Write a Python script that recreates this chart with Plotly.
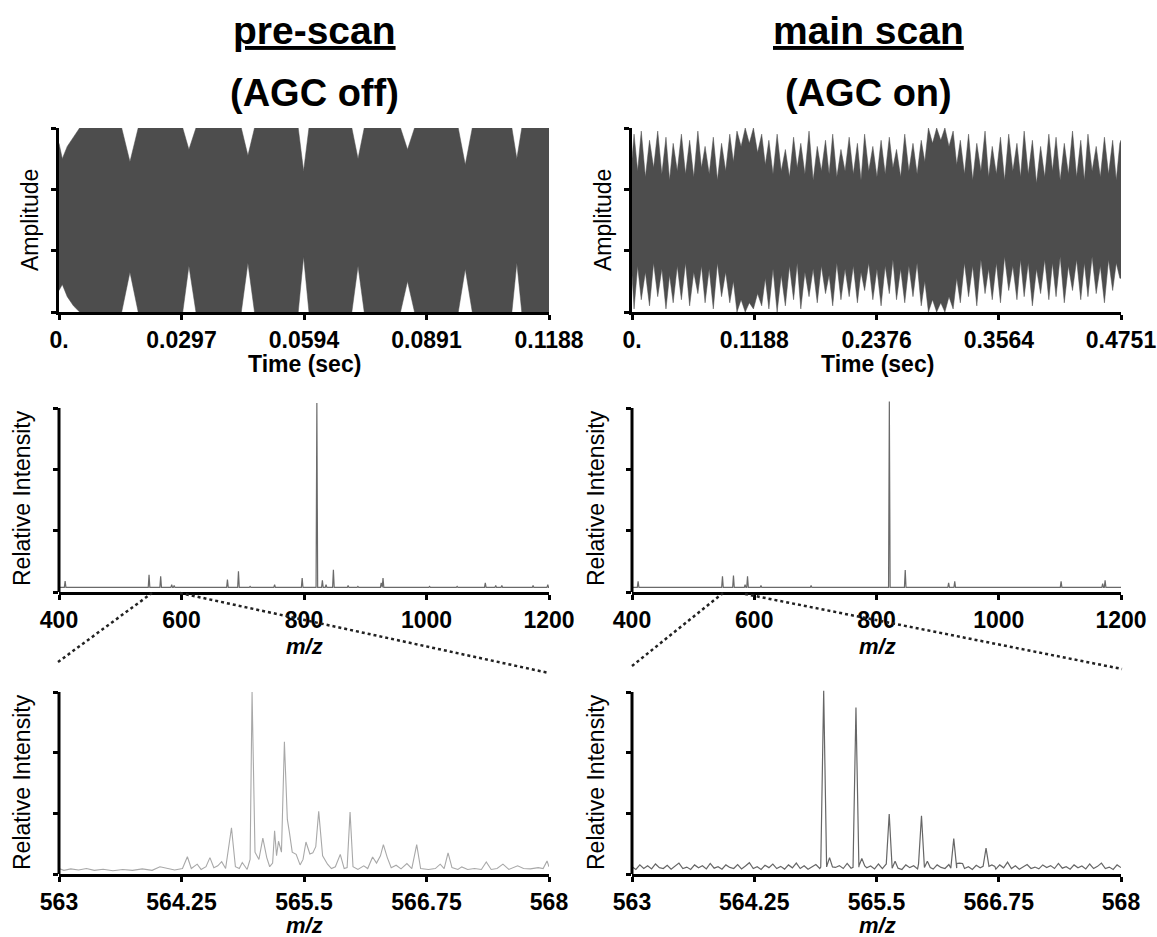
import numpy as np
import plotly.graph_objects as go

W, H = 1157, 937
FONT = "Liberation Sans, Arial, Helvetica, sans-serif"

# ---------------- time-domain transients (envelopes) -------------
pre_t = [0.0, 0.0008, 0.0020, 0.0035, 0.0050, 0.0152, 0.0172, 0.0192, 0.0300, 0.0315,
         0.0332, 0.0442, 0.0458, 0.0474, 0.0580, 0.0593, 0.0606, 0.0710, 0.0725, 0.0740,
         0.0828, 0.0845, 0.0862, 0.0968, 0.0985, 0.1002, 0.1098, 0.1110, 0.1122, 0.1188]
pre_up = [2.5, 2.0, 2.4, 2.7, 3.0, 3.0, 1.9, 3.0, 3.0, 2.3, 3.0, 3.0, 2.1, 3.0, 3.0,
          1.6, 3.0, 3.0, 2.0, 3.0, 3.0, 2.3, 3.0, 3.0, 1.8, 3.0, 3.0, 2.0, 3.0, 3.0]
pre_lo = [-2.3, -2.1, -2.5, -2.8, -3.0, -3.0, -1.7, -3.0, -3.0, -1.5, -3.0, -3.0, -1.4, -3.0, -3.0,
          -1.2, -3.0, -3.0, -1.5, -3.0, -3.0, -2.0, -3.0, -3.0, -1.6, -3.0, -3.0, -1.4, -3.0, -3.0]

main_peak_t = [0.002, 0.009, 0.017, 0.025, 0.033, 0.040, 0.048, 0.056, 0.064, 0.071,
               0.079, 0.087, 0.095, 0.102, 0.110, 0.118, 0.126, 0.133, 0.141, 0.149,
               0.157, 0.164, 0.172, 0.180, 0.188, 0.195, 0.203, 0.211, 0.219, 0.226,
               0.234, 0.242, 0.250, 0.257, 0.265, 0.273, 0.281, 0.288, 0.296, 0.304,
               0.312, 0.319, 0.327, 0.335, 0.343, 0.350, 0.358, 0.366, 0.374, 0.381,
               0.389, 0.397, 0.405, 0.412, 0.420, 0.428, 0.436, 0.443, 0.451, 0.459,
               0.467, 0.474]
main_valley_t = [0.0055, 0.013, 0.021, 0.029, 0.0365, 0.044, 0.052, 0.060, 0.0675, 0.075,
                 0.083, 0.091, 0.0985, 0.106, 0.114, 0.122, 0.1295, 0.137, 0.145, 0.153,
                 0.1605, 0.168, 0.176, 0.184, 0.1915, 0.199, 0.207, 0.215, 0.2225, 0.230,
                 0.238, 0.246, 0.2535, 0.261, 0.269, 0.277, 0.2845, 0.292, 0.300, 0.308,
                 0.3155, 0.323, 0.331, 0.339, 0.3465, 0.354, 0.362, 0.370, 0.3775, 0.385,
                 0.393, 0.401, 0.4085, 0.416, 0.424, 0.432, 0.4395, 0.447, 0.455, 0.463,
                 0.4705]
main_peak_up = [2.8, 2.9, 2.6, 2.9, 2.7, 2.5, 2.8, 2.6, 2.9, 2.4, 2.7, 2.5, 2.8,
                2.9, 3.0, 3.0, 2.8,
                2.6, 2.8, 2.3, 2.7, 2.5, 2.9, 2.4, 2.6, 2.8, 2.3, 2.7, 2.5, 2.8, 2.4, 2.6, 2.7, 2.3, 2.8, 2.5, 2.6,
                3.0, 3.0, 3.0, 2.9,
                2.6, 2.8, 2.5, 2.9, 2.4, 2.7, 2.8, 2.5, 2.9, 2.6, 2.4, 2.8, 2.7, 2.5, 2.9, 2.6, 2.8, 2.4, 2.7, 2.6, 2.5]
main_peak_lo = [-2.9, -2.6, -2.8, -2.5, -2.9, -2.7, -2.6, -2.8, -2.4, -2.7, -2.9, -2.5, -2.7,
                -3.0, -3.0, -2.9, -2.8,
                -2.9, -3.0, -2.8, -2.6, -2.9, -2.5, -2.7, -2.4, -2.8, -2.6, -2.5, -2.7, -2.3, -2.6, -2.8, -2.4, -2.6, -2.7, -2.5, -2.8,
                -3.0, -3.0, -3.0, -2.9,
                -2.7, -2.5, -2.8, -2.4, -2.6, -2.7, -2.3, -2.6, -2.5, -2.8, -2.4, -2.6, -2.5, -2.7, -2.3, -2.6, -2.5, -2.4, -2.7, -2.3, -1.9]
main_valley_up = [1.6, 1.4, 1.7, 1.5, 1.3, 1.6, 1.5, 1.4, 1.7, 1.5, 1.3, 1.6, 1.9,
                  2.4, 2.5, 2.2, 1.8,
                  1.5, 1.6, 1.4, 1.7, 1.5, 1.3, 1.6, 1.5, 1.4, 1.6, 1.5, 1.3, 1.6, 1.4, 1.5, 1.7, 1.4, 1.6, 1.5,
                  1.9, 2.5, 2.6, 2.4, 1.8,
                  1.5, 1.3, 1.6, 1.4, 1.5, 1.3, 1.6, 1.4, 1.5, 1.2, 1.4, 1.6, 1.3, 1.5, 1.4, 1.3, 1.6, 1.4, 1.5, 1.3]
main_valley_lo = [-1.5, -1.7, -1.4, -1.6, -1.8, -1.5, -1.4, -1.7, -1.5, -1.6, -1.4, -1.7, -2.0,
                  -2.6, -2.7, -2.4, -1.9,
                  -1.6, -1.8, -1.5, -1.4, -1.7, -1.6, -1.5, -1.8, -1.4, -1.6, -1.5, -1.7, -1.4, -1.6, -1.5, -1.3, -1.6, -1.5, -1.4,
                  -2.0, -2.6, -2.7, -2.5, -1.9,
                  -1.4, -1.5, -1.3, -1.6, -1.4, -1.2, -1.5, -1.3, -1.4, -1.6, -1.3, -1.4, -1.2, -1.5, -1.3, -1.4, -1.2, -1.5, -1.3, -1.4]
main_start = (0.0, 2.0, -1.8)
main_end = (0.4751, 2.6, -1.9)

pre_ticks = [0.0, 0.0297, 0.0594, 0.0891, 0.1188]
pre_ticktext = ["0.", "0.0297", "0.0594", "0.0891", "0.1188"]
main_ticks = [0.0, 0.1188, 0.2376, 0.3564, 0.4751]
main_ticktext = ["0.", "0.1188", "0.2376", "0.3564", "0.4751"]

# ---------------- mass spectra (400-1200) ----------------
ml_peak_mz = [410, 547, 566, 584, 588, 675, 693, 712, 752, 797, 821, 830, 836, 848, 872,
              888, 926, 929, 1005, 1050, 1096, 1113, 1123, 1174, 1198]
ml_peak_int = [0.06, 0.094, 0.085, 0.04, 0.035, 0.067, 0.112, 0.03, 0.04, 0.076, 1.027, 0.063, 0.04, 0.121, 0.035,
               0.03, 0.05, 0.076, 0.03, 0.03, 0.05, 0.035, 0.035, 0.035, 0.04]
mr_peak_mz = [410, 548, 566, 585, 589, 611, 693, 821, 847, 918, 928, 1102, 1170, 1174]
mr_peak_int = [0.058, 0.085, 0.09, 0.04, 0.085, 0.035, 0.035, 1.035, 0.12, 0.05, 0.058, 0.058, 0.045, 0.063]
wide_base_mz = [400, 1200]
wide_base_int = [0.025, 0.025]
wide_ticks = [400, 600, 800, 1000, 1200]
wide_ticktext = ["400", "600", "800", "1000", "1200"]

# ---------------- zoomed spectra (563-568) ----------------
bl_mz = [563.00, 563.05, 563.12, 563.20, 563.28, 563.36, 563.45, 563.55, 563.65, 563.75,
         563.85, 563.95, 564.03, 564.10, 564.18, 564.26, 564.31, 564.35, 564.41, 564.45,
         564.50, 564.54, 564.58, 564.62, 564.66, 564.70, 564.76, 564.80, 564.84, 564.87,
         564.92, 564.95, 564.97, 565.00, 565.04, 565.08, 565.12, 565.15, 565.18, 565.20,
         565.22, 565.24, 565.27, 565.30, 565.33, 565.35, 565.38, 565.42, 565.46, 565.49,
         565.52, 565.56, 565.59, 565.62, 565.65, 565.69, 565.74, 565.78, 565.82, 565.87,
         565.91, 565.94, 565.97, 566.00, 566.05, 566.11, 566.15, 566.20, 566.24, 566.28,
         566.31, 566.35, 566.39, 566.44, 566.49, 566.55, 566.60, 566.65, 566.69, 566.77,
         566.84, 566.89, 566.93, 566.97, 567.01, 567.07, 567.11, 567.17, 567.24, 567.31,
         567.36, 567.41, 567.47, 567.53, 567.59, 567.68, 567.74, 567.81, 567.89, 567.94,
         567.98, 568.00]
bl_int = [0.030, 0.020, 0.028, 0.022, 0.030, 0.020, 0.026, 0.018, 0.025, 0.020,
          0.028, 0.020, 0.040, 0.030, 0.022, 0.030, 0.095, 0.030, 0.054, 0.025,
          0.040, 0.090, 0.035, 0.045, 0.068, 0.030, 0.254, 0.040, 0.030, 0.063,
          0.025, 0.080, 1.000, 0.120, 0.080, 0.197, 0.090, 0.040, 0.060, 0.237,
          0.100, 0.180, 0.120, 0.726, 0.300, 0.233, 0.120, 0.108, 0.050, 0.080,
          0.176, 0.110, 0.116, 0.150, 0.344, 0.100, 0.054, 0.030, 0.040, 0.108,
          0.030, 0.035, 0.340, 0.040, 0.025, 0.045, 0.030, 0.093, 0.060, 0.100,
          0.161, 0.090, 0.035, 0.048, 0.028, 0.057, 0.030, 0.161, 0.030, 0.025,
          0.030, 0.054, 0.030, 0.116, 0.035, 0.025, 0.039, 0.025, 0.030, 0.025,
          0.066, 0.025, 0.030, 0.054, 0.025, 0.045, 0.030, 0.028, 0.035, 0.030,
          0.072, 0.040]

br_noise = [0.04, 0.025, 0.05, 0.03, 0.045, 0.028, 0.055, 0.035, 0.03, 0.048, 0.026, 0.042, 0.06, 0.03, 0.038, 0.025, 0.05, 0.034, 0.045, 0.028,
            0.058, 0.032, 0.04, 0.026, 0.05, 0.036, 0.03, 0.052, 0.028, 0.044, 0.062, 0.03, 0.04, 0.025, 0.048, 0.035, 0.055, 0.03, 0.042, 0.027,
            0.05, 0.034, 0.06, 0.03, 0.045, 0.026, 0.04, 0.052, 0.03, 0.038, 0.028, 0.05, 0.036, 0.046, 0.03, 0.058, 0.032, 0.04, 0.026, 0.05,
            0.034, 0.044, 0.028, 0.055, 0.03, 0.042, 0.06, 0.03, 0.038, 0.025, 0.05, 0.035, 0.045, 0.028, 0.056, 0.032, 0.04, 0.027, 0.05, 0.036,
            0.03, 0.052, 0.028, 0.046, 0.062, 0.03, 0.04, 0.025, 0.048, 0.034, 0.055, 0.03, 0.042, 0.027, 0.05, 0.034, 0.065, 0.03, 0.045, 0.026,
            0.04, 0.052, 0.03, 0.038, 0.028, 0.05, 0.036, 0.046, 0.03, 0.058, 0.032, 0.04, 0.026, 0.05, 0.034, 0.044, 0.028, 0.055, 0.03, 0.042,
            0.06, 0.03, 0.038, 0.025, 0.05, 0.035]
br_peak_mz = [564.96, 565.02, 565.29, 565.35, 565.63, 565.69, 565.96, 566.02, 566.29, 566.35, 566.62, 566.68]
br_peak_int = [1.007, 0.09, 0.915, 0.085, 0.33, 0.07, 0.32, 0.07, 0.195, 0.06, 0.142, 0.05]
narrow_ticks = [563, 564.25, 565.5, 566.75, 568]
narrow_ticktext = ["563", "564.25", "565.5", "566.75", "568"]


def profile(base_x, base_y, px, ph, hw):
    base_x = list(base_x)
    base_y = list(base_y)
    pts = [(x, y) for x, y in zip(base_x, base_y) if min(abs(x - p) for p in px) > hw]
    for p, h in zip(px, ph):
        b = float(np.interp(p, base_x, base_y))
        pts += [(p - hw, b), (p, h), (p + hw, b)]
    pts.sort(key=lambda q: q[0])
    return [q[0] for q in pts], [q[1] for q in pts]


def envelope(t, up, lo):
    return list(t) + list(t)[::-1], list(up) + list(lo)[::-1]


mt, mu, mlo = [main_start[0]], [main_start[1]], [main_start[2]]
for i in range(len(main_peak_t)):
    mt.append(main_peak_t[i]); mu.append(main_peak_up[i]); mlo.append(main_peak_lo[i])
    if i < len(main_valley_t):
        mt.append(main_valley_t[i]); mu.append(main_valley_up[i]); mlo.append(main_valley_lo[i])
mt.append(main_end[0]); mu.append(main_end[1]); mlo.append(main_end[2])

fig = go.Figure()
WAVE = "#4d4d4d"
ex, ey = envelope(pre_t, pre_up, pre_lo)
fig.add_trace(go.Scatter(x=ex, y=ey, fill="toself", fillcolor=WAVE, mode="lines",
                         line=dict(color=WAVE, width=0.5), xaxis="x", yaxis="y", hoverinfo="skip"))
ex, ey = envelope(mt, mu, mlo)
fig.add_trace(go.Scatter(x=ex, y=ey, fill="toself", fillcolor=WAVE, mode="lines",
                         line=dict(color=WAVE, width=0.5), xaxis="x2", yaxis="y2", hoverinfo="skip"))

x3, y3 = profile(wide_base_mz, wide_base_int, ml_peak_mz, ml_peak_int, 1.3)
fig.add_trace(go.Scatter(x=x3, y=y3, mode="lines", line=dict(color="#6a6a6a", width=1.2),
                         xaxis="x3", yaxis="y3"))
x4, y4 = profile(wide_base_mz, wide_base_int, mr_peak_mz, mr_peak_int, 1.3)
fig.add_trace(go.Scatter(x=x4, y=y4, mode="lines", line=dict(color="#6a6a6a", width=1.2),
                         xaxis="x4", yaxis="y4"))
fig.add_trace(go.Scatter(x=bl_mz, y=bl_int, mode="lines", line=dict(color="#a8a8a8", width=1.1),
                         xaxis="x5", yaxis="y5"))
br_grid = np.linspace(563, 568, len(br_noise))
x6, y6 = profile(br_grid, br_noise, br_peak_mz, br_peak_int, 0.03)
fig.add_trace(go.Scatter(x=x6, y=y6, mode="lines", line=dict(color="#666666", width=1.2),
                         xaxis="x6", yaxis="y6"))


def px_x(p):
    return p / W


def px_y(p):
    return 1 - p / H


XL = [px_x(59), px_x(549)]
XR = [px_x(632), px_x(1121)]
Y_TOP = [px_y(312), px_y(128)]
Y_MID = [px_y(592), px_y(592 - 184 * 1.05)]
Y_BOT = [px_y(874), px_y(874 - 182 * 1.04)]

tickfont = dict(family=FONT, size=23, color="black", weight="bold")


def xax(domain, anchor, rng, tv, tt):
    return dict(domain=domain, anchor=anchor, range=rng, tickvals=tv, ticktext=tt,
                showline=True, linewidth=3, linecolor="black", ticks="outside", ticklen=5,
                tickwidth=3, tickcolor="black", showgrid=False, zeroline=False,
                tickfont=tickfont, ticklabeloverflow="allow", ticklabelstandoff=0,
                automargin=False, fixedrange=True)


def yax(domain, anchor, rng, tv, line=True):
    return dict(domain=domain, anchor=anchor, range=rng, tickvals=tv, showticklabels=False,
                showline=line, linewidth=3, linecolor="black", ticks="outside", ticklen=5,
                tickwidth=2.5, tickcolor="black", showgrid=False, zeroline=False,
                automargin=False, fixedrange=True)


thirds = [0, 1 / 3, 2 / 3, 1]
fig.update_layout(
    xaxis=xax(XL, "y", [0, 0.1188], pre_ticks, pre_ticktext),
    yaxis=yax(Y_TOP, "x", [-3, 3], [-3, -1, 1, 3]),
    xaxis2=xax(XR, "y2", [0, 0.4751], main_ticks, main_ticktext),
    yaxis2=yax(Y_TOP, "x2", [-3, 3], [-3, -1, 1, 3]),
    xaxis3=xax(XL, "y3", [400, 1200], wide_ticks, wide_ticktext),
    yaxis3=yax(Y_MID, "x3", [0, 1.05], thirds, line=False),
    xaxis4=xax(XR, "y4", [400, 1200], wide_ticks, wide_ticktext),
    yaxis4=yax(Y_MID, "x4", [0, 1.05], thirds, line=False),
    xaxis5=xax(XL, "y5", [563, 568], narrow_ticks, narrow_ticktext),
    yaxis5=yax(Y_BOT, "x5", [0, 1.04], thirds, line=False),
    xaxis6=xax(XR, "y6", [563, 568], narrow_ticks, narrow_ticktext),
    yaxis6=yax(Y_BOT, "x6", [0, 1.04], thirds, line=False),
)

shapes = []
for n in (3, 4, 5, 6):
    shapes.append(dict(type="line", xref=f"x{n} domain", yref=f"y{n}", x0=0, x1=0, y0=0, y1=1,
                       line=dict(color="black", width=3)))
dots = [((58, 662), (152, 593)), ((180, 593), (549, 673)),
        ((632, 666), (723, 593)), ((745, 594), (1122, 669))]
for (a, b) in dots:
    shapes.append(dict(type="line", xref="paper", yref="paper", x0=px_x(a[0]), y0=px_y(a[1]),
                       x1=px_x(b[0]), y1=px_y(b[1]), line=dict(color="#222222", width=2.5, dash="dot")))

ann = []


def add_text(text, x, y, size, angle=0):
    ann.append(dict(text=text, x=px_x(x), y=px_y(y), xref="paper", yref="paper", showarrow=False,
                    xanchor="center", yanchor="middle", textangle=angle,
                    font=dict(family=FONT, size=size, color="black")))


add_text("<b><u>pre-scan</u></b>", 314, 30, 39)
add_text("<b>(AGC off)</b>", 314, 93, 38)
add_text("<b><u>main scan</u></b>", 868, 30, 39)
add_text("<b>(AGC on)</b>", 868, 93, 38)
add_text("<b>Time (sec)</b>", 304, 364, 23)
add_text("<b>Time (sec)</b>", 877, 364, 23)
add_text("<b><i>m/z</i></b>", 304, 646, 22)
add_text("<b><i>m/z</i></b>", 877, 646, 22)
add_text("<b><i>m/z</i></b>", 304, 925, 22)
add_text("<b><i>m/z</i></b>", 877, 925, 22)
add_text("Amplitude", 30, 220, 23, -90)
add_text("Amplitude", 603, 220, 23, -90)
add_text("Relative Intensity", 22, 498, 23, -90)
add_text("Relative Intensity", 596, 498, 23, -90)
add_text("Relative Intensity", 22, 782, 23, -90)
add_text("Relative Intensity", 596, 782, 23, -90)

fig.update_layout(
    width=W, height=H, autosize=False,
    margin=dict(l=0, r=0, t=0, b=0, pad=0),
    paper_bgcolor="white", plot_bgcolor="white",
    showlegend=False, shapes=shapes, annotations=ann,
    font=dict(family=FONT, color="black"),
)

fig.write_html("out.html", config={"displayModeBar": False},
               post_script="document.body.style.margin='0';")
